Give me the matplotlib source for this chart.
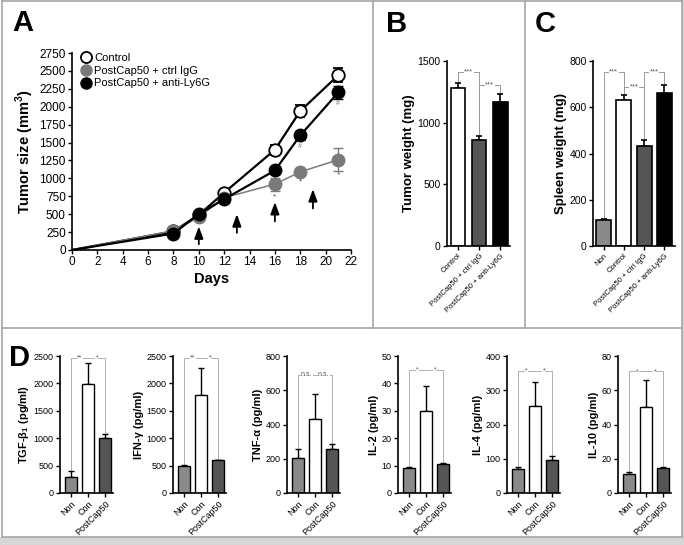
import matplotlib
matplotlib.use('Agg')
import matplotlib.pyplot as plt
from matplotlib.lines import Line2D
from matplotlib.patches import Rectangle

plt.rcParams['font.family'] = ['Liberation Sans', 'DejaVu Sans']
plt.rcParams['mathtext.fontset'] = 'custom'
plt.rcParams['mathtext.rm'] = 'Liberation Sans'
plt.rcParams['mathtext.bf'] = 'Liberation Sans:bold'
plt.rcParams['axes.linewidth'] = 1.2

W, H = 684, 545

# ---- panel A data ----
days = [0, 8, 10, 12, 16, 18, 21]
ctrl = [0, 260, 490, 800, 1400, 1940, 2440]
ctrl_err = [0, 20, 30, 30, 70, 80, 100]
igg = [0, 270, 460, 730, 920, 1090, 1260]
igg_err = [0, 20, 30, 20, 90, 40, 160]
ly6g = [0, 230, 500, 710, 1110, 1600, 2200]
ly6g_err = [0, 20, 30, 20, 50, 60, 90]
arrow_days = [10, 13, 16, 19]
arrow_base = [80, 240, 400, 580]
arrow_tip = [330, 500, 670, 850]
star_days = [16, 18, 21]
star_y = [740, 950, 1050]
hash_days = [18, 21]
hash_y = [1450, 2040]

# ---- panel B data ----
b_labels = ['Control', 'PostCap50 + ctrl IgG', 'PostCap50 + anti-Ly6G']
b_vals = [1280, 860, 1170]
b_err = [40, 30, 60]

# ---- panel C data ----
c_labels = ['Non', 'Control', 'PostCap50 + ctrl IgG', 'PostCap50 + anti-Ly6G']
c_vals = [113, 632, 432, 660]
c_err = [5, 20, 25, 35]

# ---- panel D data ----
d_groups = ['Non', 'Con', 'PostCap50']
d_names = ['TGF-β$_\\mathbf{1}$ (pg/ml)', 'IFN-γ (pg/ml)', 'TNF-α (pg/ml)',
           'IL-2 (pg/ml)', 'IL-4 (pg/ml)', 'IL-10 (pg/ml)']
d_vals = [[290, 1990, 1010], [490, 1780, 600], [205, 430, 255],
          [9.3, 30, 10.6], [70, 255, 97], [11, 50, 14.5]]
d_err = [[110, 380, 70], [25, 500, 10], [50, 150, 30],
         [0.3, 9, 0.2], [5, 70, 10], [1, 16, 0.4]]
d_ymax = [2500, 2500, 800, 50, 400, 80]
d_step = [500, 500, 200, 10, 100, 20]
d_brack = [2470, 2470, 690, 45, 356, 71]
d_sig = [('**', '*'), ('**', '*'), ('n.s.', 'n.s.'), ('*', '*'), ('*', '*'), ('*', '*')]

NON_C = '#8a8a8a'
DARK_C = '#555555'


def ax_px(left, top, right, bottom):
    return fig.add_axes([left / W, 1 - bottom / H, (right - left) / W, (bottom - top) / H])


def style(ax, fs):
    ax.spines['top'].set_visible(False)
    ax.spines['right'].set_visible(False)
    ax.tick_params(direction='out', length=3, width=1, labelsize=fs, pad=1.5)


def bar_error_up(ax, x, v, e, lw=1.0):
    ax.errorbar(x, v, yerr=[[0] * len(e), e], fmt='none', ecolor='black',
                elinewidth=lw, capsize=2.5, capthick=lw, zorder=1)


def bracket(ax, x0, x1, y, y0, y1, text, fs, color='#9a9a9a'):
    ax.plot([x0, x0, x1, x1], [y0, y, y, y1], color=color, lw=0.7, zorder=0,
            clip_on=False)
    ax.text((x0 + x1) / 2, y, text, ha='center', va='center', fontsize=fs,
            color='#555555', bbox=dict(facecolor='white', edgecolor='none', pad=0.3))


fig = plt.figure(figsize=(W / 100, H / 100), dpi=100)
fig.patch.set_facecolor('white')

# ---------------- Panel A ----------------
ax = ax_px(72, 53, 351, 250)
style(ax, 8.5)
mk = list(range(1, len(days)))
ax.errorbar(days, ctrl, yerr=ctrl_err, color='black', lw=1.6, marker='o',
            ms=9, mfc='white', mec='black', mew=1.3, capsize=3.5, elinewidth=1,
            markevery=mk, label='Control', zorder=3)
ax.errorbar(days, igg, yerr=igg_err, color='#7a7a7a', lw=1.1, marker='o',
            ms=9, mfc='#7a7a7a', mec='#7a7a7a', capsize=3.5, elinewidth=1,
            markevery=mk, label='PostCap50 + ctrl IgG', zorder=4)
ax.errorbar(days, ly6g, yerr=ly6g_err, color='black', lw=1.6, marker='o',
            ms=9, mfc='black', mec='black', capsize=3.5, elinewidth=1,
            markevery=mk, label='PostCap50 + anti-Ly6G', zorder=5)
for d, b, t in zip(arrow_days, arrow_base, arrow_tip):
    ax.annotate('', xy=(d, t), xytext=(d, b),
                arrowprops=dict(arrowstyle='-|>,head_length=0.6,head_width=0.22',
                                color='black', lw=1.3, mutation_scale=12,
                                shrinkA=0, shrinkB=0))
for d, y in zip(star_days, star_y):
    ax.text(d, y, '*', ha='center', va='center', fontsize=6, color='#555555')
for d, y in zip(hash_days, hash_y):
    ax.text(d, y, '#', ha='center', va='center', fontsize=5, color='#777777')
ax.set_xlim(0, 22)
ax.set_ylim(0, 2750)
ax.set_xticks(range(0, 23, 2))
ax.set_yticks(range(0, 2751, 250))
ax.set_xlabel('Days', fontsize=10.5, fontweight='bold', labelpad=3)
ax.set_ylabel('Tumor size (mm$^\\mathbf{3}$)', fontsize=10.5, fontweight='bold',
              labelpad=2)
handles = [Line2D([], [], ls='none', marker='o', ms=8, mfc='white', mec='black', mew=1.3),
           Line2D([], [], ls='none', marker='o', ms=8, mfc='#7a7a7a', mec='#7a7a7a'),
           Line2D([], [], ls='none', marker='o', ms=8, mfc='black', mec='black')]
ax.legend(handles, ['Control', 'PostCap50 + ctrl IgG', 'PostCap50 + anti-Ly6G'],
          loc='upper left', bbox_to_anchor=(0.0, 1.04), frameon=False,
          fontsize=8, handletextpad=0.1, labelspacing=0.25, handlelength=1.2,
          borderaxespad=0.3)

# ---------------- Panel B ----------------
ax = ax_px(447, 61, 510, 246)
style(ax, 7.5)
xb = range(len(b_vals))
bar_error_up(ax, xb, b_vals, b_err, lw=1.2)
ax.bar(xb, b_vals, width=0.68, color=['white', DARK_C, 'black'],
       edgecolor='black', lw=1.2, zorder=2)
ax.set_xlim(-0.52, 2.45)
ax.set_ylim(0, 1500)
ax.set_yticks([0, 500, 1000, 1500])
ax.set_xticks(list(xb))
ax.set_xticklabels(b_labels, rotation=45, ha='right', rotation_mode='anchor',
                   fontsize=5.5)
ax.set_ylabel('Tumor weight (mg)', fontsize=9.5, fontweight='bold', labelpad=2)
bracket(ax, 0, 1, 1410, 1340, 900, '***', 5.5)
bracket(ax, 1, 2, 1305, 900, 1240, '***', 5.5)

# ---------------- Panel C ----------------
ax = ax_px(593, 61, 675, 246)
style(ax, 7.5)
xc = range(len(c_vals))
bar_error_up(ax, xc, c_vals, c_err, lw=1.2)
ax.bar(xc, c_vals, width=0.74, color=[NON_C, 'white', DARK_C, 'black'],
       edgecolor='black', lw=1.2, zorder=2)
ax.set_xlim(-0.52, 3.52)
ax.set_ylim(0, 800)
ax.set_yticks([0, 200, 400, 600, 800])
ax.set_xticks(list(xc))
ax.set_xticklabels(c_labels, rotation=45, ha='right', rotation_mode='anchor',
                   fontsize=5.5)
ax.set_ylabel('Spleen weight (mg)', fontsize=9.5, fontweight='bold', labelpad=2)
bracket(ax, 0, 1, 752, 125, 660, '***', 5.5)
bracket(ax, 1, 2, 688, 660, 465, '***', 5.5)
bracket(ax, 2, 3, 752, 465, 700, '***', 5.5)

# ---------------- Panel D ----------------
d_left = [60, 173, 287, 398, 507, 618]
for i in range(6):
    ax = ax_px(d_left[i], 356, d_left[i] + 53, 493)
    style(ax, 6.5)
    xd = range(3)
    bar_error_up(ax, xd, d_vals[i], d_err[i], lw=1.0)
    ax.bar(xd, d_vals[i], width=0.7, color=[NON_C, 'white', DARK_C],
           edgecolor='black', lw=1.0, zorder=2)
    ax.set_xlim(-0.65, 2.45)
    ax.set_ylim(0, d_ymax[i])
    ax.set_yticks([k * d_step[i] for k in range(int(d_ymax[i] / d_step[i]) + 1)])
    ax.set_xticks(list(xd))
    ax.set_xticklabels(d_groups, rotation=45, ha='right', rotation_mode='anchor',
                       fontsize=6.5)
    ax.set_ylabel(d_names[i], fontsize=8, fontweight='bold', labelpad=2)
    top0 = d_vals[i][0] + d_err[i][0]
    top2 = d_vals[i][2] + d_err[i][2]
    yb = d_brack[i]
    ax.plot([0, 0, 2, 2], [top0, yb, yb, top2], color='#b0b0b0', lw=0.7,
            zorder=0, clip_on=False)
    ax.text(0.5, yb, d_sig[i][0], ha='center', va='center', fontsize=5,
            color='#555555', bbox=dict(facecolor='white', edgecolor='none', pad=0.2))
    ax.text(1.5, yb, d_sig[i][1], ha='center', va='center', fontsize=5,
            color='#555555', bbox=dict(facecolor='white', edgecolor='none', pad=0.2))

# ---------------- letters ----------------
fig.text(12 / W, 1 - 23 / H, 'A', fontsize=21, fontweight='bold', va='center')
fig.text(386 / W, 1 - 24 / H, 'B', fontsize=21, fontweight='bold', va='center')
fig.text(535 / W, 1 - 24 / H, 'C', fontsize=21, fontweight='bold', va='center')
fig.text(9 / W, 1 - 358 / H, 'D', fontsize=21, fontweight='bold', va='center')

# ---------------- frame lines ----------------
frame = '#a5a5a5'
fig.add_artist(Rectangle((0, 0), 1, 8 / H, transform=fig.transFigure,
                         facecolor='#d6d6d6', edgecolor='none'))
fig.add_artist(Rectangle((682 / W, 0), 2 / W, 1, transform=fig.transFigure,
                         facecolor='#d6d6d6', edgecolor='none'))
for (x0, y0, x1, y1) in [(1.5, 0.5, 681.5, 0.5), (1.5, 0.5, 1.5, 537),
                         (681.5, 0.5, 681.5, 537), (1.5, 537, 681.5, 537),
                         (1.5, 328, 681.5, 328), (373, 0.5, 373, 328),
                         (525, 0.5, 525, 328)]:
    fig.add_artist(Line2D([x0 / W, x1 / W], [1 - y0 / H, 1 - y1 / H],
                          transform=fig.transFigure, color=frame, lw=1.2))

fig.savefig('out.png', dpi=100)
